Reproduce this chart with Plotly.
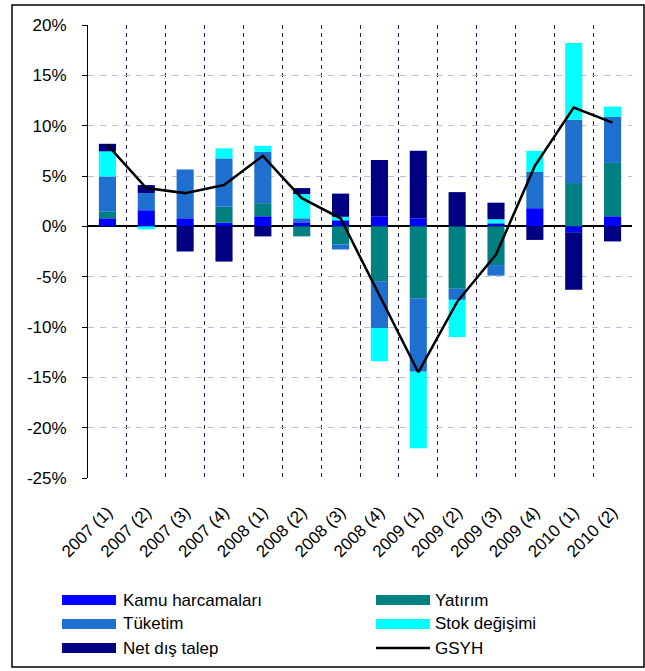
import plotly.graph_objects as go

quarters = ["2007 (1)", "2007 (2)", "2007 (3)", "2007 (4)", "2008 (1)", "2008 (2)", "2008 (3)",
            "2008 (4)", "2009 (1)", "2009 (2)", "2009 (3)", "2009 (4)", "2010 (1)", "2010 (2)"]
kamu    = [0.8, 1.6, 0.8, 0.35, 1.0, 0.4, 0.6, 1.0, 0.8, 0.0, 0.3, 1.8, -0.6, 1.0]
yatirim = [0.65, 0.0, 0.0, 1.6, 1.3, -1.0, -1.8, -5.5, -7.15, -6.2, -3.85, 0.0, 4.3, 5.3]
tuketim = [3.5, 1.7, 4.85, 4.8, 5.1, 0.4, -0.5, -4.6, -7.3, -1.1, -1.05, 3.6, 6.3, 4.6]
stok    = [2.5, -0.3, 0.0, 1.0, 0.6, 2.4, 0.35, -3.3, -7.6, -3.7, 0.4, 2.1, 7.6, 1.0]
net     = [0.75, 0.8, -2.5, -3.5, -1.0, 0.6, 2.3, 5.6, 6.7, 3.4, 1.65, -1.35, -5.7, -1.5]
gsyh    = [8.1, 3.8, 3.3, 4.1, 7.0, 2.8, 0.8, -6.8, -14.5, -7.5, -2.8, 6.0, 11.8, 10.3]

names = ["Kamu harcamaları", "Yatırım", "Tüketim", "Stok değişimi", "Net dış talep", "GSYH"]
colors = ["#0000FF", "#008080", "#1E6FD0", "#00FFFF", "#000080", "#000000"]
series = [kamu, yatirim, tuketim, stok, net]

W, H = 645, 671
L, R, T, B = 88, 13, 25, 193
PW, PH = W - L - R, H - T - B

def px(x):
    return (x - L) / PW

def py(y):
    return (H - B - y) / PH

fig = go.Figure()
for nm, col, vals in zip(names[:5], colors[:5], series):
    fig.add_trace(go.Bar(x=quarters, y=vals, name=nm, marker=dict(color=col, line=dict(width=0)),
                         showlegend=False))
fig.add_trace(go.Scatter(x=quarters, y=gsyh, name="GSYH", mode="lines",
                         line=dict(color="black", width=2.5), showlegend=False))

font = "Arial, Liberation Sans, sans-serif"
fig.update_layout(
    width=W, height=H, margin=dict(l=L, r=R, t=T, b=B),
    barmode="relative", bargap=0.56,
    plot_bgcolor="white", paper_bgcolor="white",
    font=dict(family=font, size=17, color="black"),
    xaxis=dict(type="category", range=[-0.5, 13.5], tickson="boundaries", showgrid=True,
               gridcolor="#22225A", griddash="4px,4px", gridwidth=1.2, ticks="", tickangle=-45,
               tickfont=dict(size=17), ticklabelstandoff=20, showline=False, zeroline=False),
    yaxis=dict(range=[-25, 20], tickvals=[-25, -20, -15, -10, -5, 0, 5, 10, 15, 20],
               ticktext=["-25%", "-20%", "-15%", "-10%", "-5%", "0%", "5%", "10%", "15%", "20%"],
               showline=True, linecolor="black", linewidth=1, ticks="outside", ticklen=5,
               tickcolor="black", showgrid=True, gridcolor="#BDBDE0", griddash="6px,6px",
               zeroline=True, zerolinecolor="black", zerolinewidth=1.5, tickfont=dict(size=17),
               ticklabelstandoff=12),
)

shapes = []
# outer frame
shapes.append(dict(type="rect", xref="paper", yref="paper", x0=px(12), x1=px(644), y0=py(667), y1=py(5),
                   line=dict(color="black", width=1.5), fillcolor="rgba(0,0,0,0)", layer="above"))
# manual legend
rows = [600, 624, 648]
cols = [(62, 116, 121), (376, 430, 433)]
ann = []
for k in range(6):
    r, c = divmod(k, 2)
    x0, x1, xt = cols[c]
    yc = rows[r]
    if k < 5:
        shapes.append(dict(type="rect", xref="paper", yref="paper", x0=px(x0), x1=px(x1),
                           y0=py(yc + 5), y1=py(yc - 5), fillcolor=colors[k], line=dict(width=0)))
    else:
        shapes.append(dict(type="line", xref="paper", yref="paper", x0=px(x0), x1=px(x1),
                           y0=py(yc), y1=py(yc), line=dict(color="black", width=2.5)))
    ann.append(dict(text=names[k], xref="paper", yref="paper", x=px(xt), y=py(yc),
                    xanchor="left", yanchor="middle", showarrow=False, font=dict(size=17)))
fig.update_layout(shapes=shapes, annotations=ann)
fig.write_html("out.html", config={"displayModeBar": False},
               post_script="document.body.style.margin='0';document.body.style.overflow='hidden';")
